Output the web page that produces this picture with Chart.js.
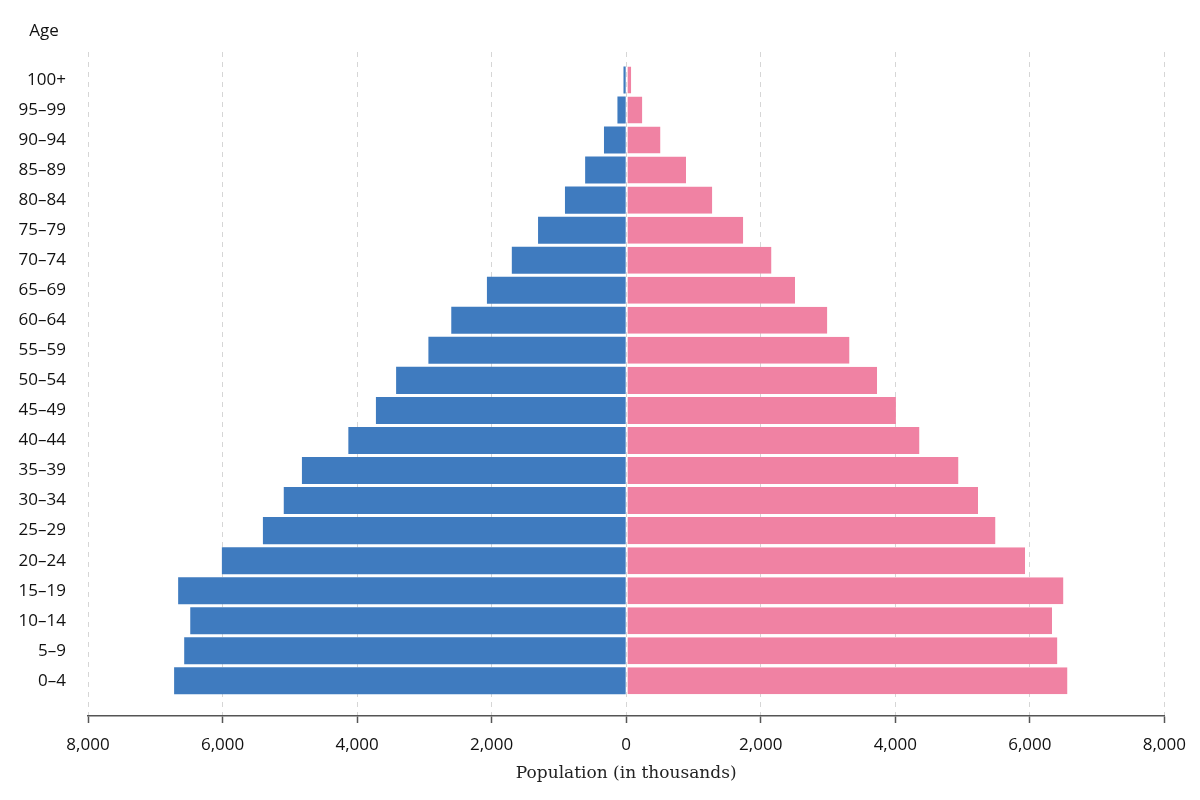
<!DOCTYPE html>
<html>
<head>
<meta charset="utf-8">
<script src="https://cdn.jsdelivr.net/npm/chart.js@4.4.1/dist/chart.umd.min.js"></script>
<style>
  html, body { margin: 0; padding: 0; background: #fff; }
  #wrap { width: 1200px; height: 800px; }
</style>
</head>
<body>
<div id="wrap"><canvas id="pyramid"></canvas></div>
<script>
// age groups, bottom to top
const ages = ['0–4', '5–9', '10–14', '15–19', '20–24', '25–29', '30–34', '35–39',
  '40–44', '45–49', '50–54', '55–59', '60–64', '65–69', '70–74', '75–79',
  '80–84', '85–89', '90–94', '95–99', '100+']

// population in thousands
const male = [6720, 6570, 6480, 6660, 6010, 5400, 5090, 4820, 4130, 3720, 3420,
  2940, 2600, 2070, 1700, 1310, 910, 610, 330, 130, 40]
const female = [6560, 6410, 6330, 6500, 5930, 5490, 5230, 4940, 4360, 4010, 3730,
  3320, 2990, 2510, 2160, 1740, 1280, 890, 510, 240, 75]

const xTicks = [-8000, -6000, -4000, -2000, 0, 2000, 4000, 6000, 8000]

const sans = 'Open Sans'
const serif = 'DejaVu Serif'

// "Age" label above the age column
const ageLabel = {
  id: 'ageLabel',
  afterDraw(chart) {
    const ctx = chart.ctx
    const y = chart.scales.y
    ctx.save()
    ctx.font = '17px "' + sans + '"'
    ctx.fillStyle = '#111'
    ctx.textAlign = 'center'
    ctx.textBaseline = 'middle'
    ctx.fillText('Age', y.left + 44, 31)
    ctx.restore()
  }
}

new Chart('pyramid', {
  type: 'bar',
  data: {
    datasets: [{
      label: 'Male',
      data: male.map((v, i) => ({ x: -v, y: i })),
      backgroundColor: '#3F7BBF',
      barPercentage: 0.9,
      categoryPercentage: 1
    }, {
      label: 'Female',
      data: female.map((v, i) => ({ x: v, y: i })),
      backgroundColor: '#F082A3',
      borderColor: '#fff',
      borderWidth: { top: 0, right: 0, bottom: 0, left: 1 },
      borderSkipped: false,
      barPercentage: 0.9,
      categoryPercentage: 1
    }]
  },
  options: {
    indexAxis: 'y',
    responsive: true,
    maintainAspectRatio: false,
    animation: false,
    layout: { padding: { top: 52, right: 15, bottom: 14, left: 0 } },
    plugins: {
      legend: { display: false },
      tooltip: { enabled: false }
    },
    scales: {
      x: {
        type: 'linear',
        stacked: true,
        min: -8000,
        max: 8000,
        afterBuildTicks(scale) {
          scale.ticks = xTicks.map(v => ({ value: v }))
        },
        ticks: {
          padding: 14,
          color: '#111',
          font: { family: sans, size: 17, lineHeight: 1 },
          callback: v => Math.abs(v).toLocaleString('en-US')
        },
        grid: {
          color: '#d6d6d6',
          lineWidth: 1,
          drawTicks: true,
          tickLength: 7,
          tickColor: '#555',
          tickWidth: 1.5
        },
        border: { display: true, color: '#555', width: 1.5, dash: [5, 5] },
        title: {
          display: true,
          text: 'Population (in thousands)',
          color: '#222',
          font: { family: serif, size: 17, lineHeight: 1 },
          padding: { top: -3, bottom: 4 }
        }
      },
      y: {
        type: 'linear',
        stacked: true,
        offset: false,
        min: -1.17,
        max: 20.93,
        afterFit(scale) { scale.width = 88 },
        afterBuildTicks(scale) {
          scale.ticks = ages.map((a, i) => ({ value: i }))
        },
        ticks: {
          padding: 22,
          color: '#111',
          font: { family: sans, size: 17 },
          callback: v => ages[v]
        },
        grid: { display: false, drawTicks: false },
        border: { display: false }
      }
    }
  },
  plugins: [ageLabel]
})
</script>
</body>
</html>
